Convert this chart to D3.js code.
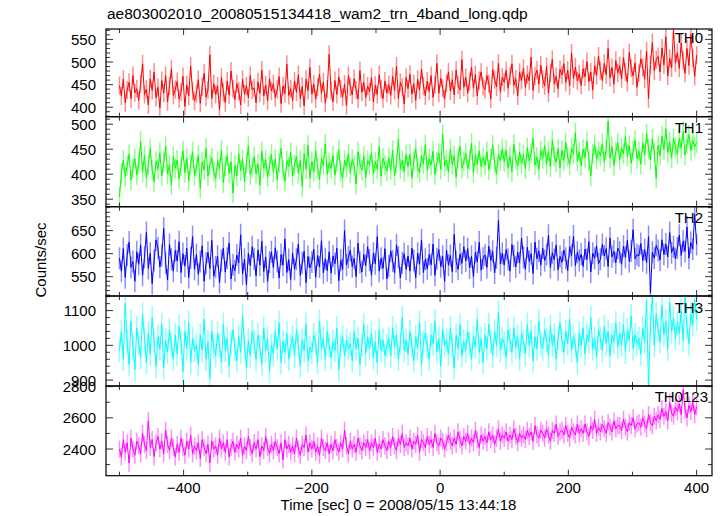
<!DOCTYPE html>
<html><head><meta charset="utf-8">
<script src="https://cdn.jsdelivr.net/npm/d3@7"></script>
<style>body{margin:0;background:#fff}svg{display:block}text{font-family:"Liberation Sans",Arial,sans-serif}</style>
</head><body><svg id="c" width="723" height="516"></svg>
<script>
const title = "ae803002010_20080515134418_wam2_trn_4band_long.qdp";
const xLabel = "Time [sec] 0 = 2008/05/15 13:44:18";
const yLabel = "Counts/sec";
const seriesNames = ["TH0", "TH1", "TH2", "TH3", "TH0123"];
const seriesColors = ["#ff0000", "#00ff00", "#0000ff", "#00ffff", "#ff00ff"];
const tStart = -500, tStep = 3;
const xTicksMajor = [-400, -200, 0, 200, 400];
const xTicksMinor = [-500, -300, -100, 100, 300];
const yDomains = [[379, 573], [335, 515], [508, 702], [883, 1142], [2229, 2804]];
const yTicksMajor = [[400, 450, 500, 550], [350, 400, 450, 500], [550, 600, 650], [900, 1000, 1100], [2400, 2600, 2800]];
const yMinorStep = [10, 10, 10, 20, 100];
const errors = [20, 20, 24, 34, 55];

const th0 = [
448,425,462,410,438,455,419,470,432,441,
415,452,496,428,440,405,463,437,478,421,
444,398,459,431,470,412,447,485,426,439,
457,418,433,468,402,449,425,491,436,414,
430,461,409,445,475,422,438,516,419,452,
428,447,395,466,433,410,458,427,480,441,
417,452,436,405,462,429,447,421,470,438,
443,410,456,431,482,425,449,414,463,436,
452,421,439,468,408,447,430,495,426,441,
415,458,433,472,419,446,403,462,437,488,
429,451,418,444,473,431,456,409,440,517,
436,412,459,428,467,441,422,451,404,470,
445,427,463,438,418,481,433,455,421,447,
434,466,412,449,428,472,440,419,458,431,
450,426,468,437,491,419,455,444,407,466,
441,473,429,452,415,462,438,484,447,425,
458,435,470,422,449,497,431,464,442,418,
453,478,436,461,427,482,449,438,505,444,
466,431,457,489,442,472,425,459,478,446,
439,470,452,418,483,461,445,497,433,467,
455,481,442,470,496,448,463,425,477,459,
486,444,472,458,511,437,469,482,451,493,
462,447,490,431,475,506,452,468,441,484,
471,496,455,482,447,520,463,489,458,474,
448,485,467,501,456,478,438,492,470,513,
481,459,497,472,530,465,488,451,503,476,
492,463,510,478,455,521,486,469,498,444,
475,507,488,462,524,419,495,543,480,505,
512,478,531,494,556,469,508,487,570,498,
521,486,542,503,475,530,492,561,509,468,
515];
const th1 = [
355,402,428,395,417,440,388,412,431,399,
421,466,404,437,392,418,451,409,385,426,
410,443,397,424,456,401,419,378,435,412,
428,391,416,447,403,432,387,420,445,398,
414,438,372,425,409,452,396,419,433,405,
391,427,411,448,383,416,437,402,425,362,
418,396,441,407,430,385,422,456,399,413,
435,401,420,378,446,412,429,394,417,440,
404,431,389,423,452,408,386,427,415,444,
397,419,436,402,428,375,441,410,458,392,
426,405,447,413,389,432,418,461,400,423,
411,437,398,424,449,406,392,428,414,441,
402,430,417,380,445,421,408,436,393,427,
419,443,401,425,410,455,396,432,418,406,
433,409,448,397,422,470,411,428,405,439,
415,440,392,426,451,413,403,437,421,459,
407,431,418,446,399,424,442,410,480,416,
428,405,450,419,437,394,432,456,412,425,
442,411,429,462,403,438,420,447,415,433,
418,445,409,431,458,422,400,440,427,451,
425,448,413,436,405,460,429,417,444,421,
439,411,453,426,442,472,418,434,409,447,
431,457,420,445,415,468,436,424,451,412,
448,427,463,435,419,452,440,483,426,444,
417,450,433,466,428,396,441,459,430,446,
437,461,425,449,506,432,455,418,444,463,
429,452,441,475,436,458,422,447,468,431,
446,420,463,438,481,451,429,470,444,392,
458,437,476,449,491,443,465,432,471,454,
440,472,452,486,438,461,479,447,468,455,
463];
const th2 = [
590,562,611,548,597,625,570,583,540,604,
577,619,553,592,646,568,601,535,585,630,
612,571,596,655,580,543,620,588,562,607,
584,626,559,600,573,612,548,591,637,566,
598,555,583,617,540,579,603,568,629,551,
571,594,537,585,612,560,590,623,545,576,
563,597,580,641,556,588,532,601,574,615,
589,552,608,575,627,561,593,540,582,604,
570,613,583,547,598,575,632,559,587,544,
601,566,588,621,553,580,605,537,594,569,
582,610,549,596,571,628,558,589,563,604,
558,595,578,612,541,586,566,650,575,592,
607,572,590,550,623,581,560,598,574,615,
586,553,601,578,637,562,590,568,611,545,
573,606,584,558,619,592,547,580,600,566,
595,562,612,585,548,601,577,630,559,588,
567,598,576,621,553,589,609,572,594,540,
608,575,596,560,642,583,566,599,579,615,
584,611,569,594,550,603,582,625,564,590,
597,570,616,585,605,558,591,672,578,601,
575,609,588,562,620,595,571,603,580,634,
592,566,614,583,600,557,625,589,606,575,
612,585,598,640,570,602,587,619,565,594,
581,608,590,563,615,596,638,574,603,585,
599,572,610,587,626,560,601,590,617,578,
588,620,595,611,572,634,593,605,580,612,
603,577,616,592,629,583,606,652,589,598,
595,622,585,609,580,637,515,603,590,618,
607,586,630,598,621,593,646,602,615,589,
612,640,596,627,605,658,590,624,610,685,
620];
const th3 = [
985,1040,960,1120,1010,945,1070,995,930,1050,
1005,965,1090,1020,950,1035,975,1080,1010,940,
1025,990,1060,935,1015,980,1045,1000,960,1030,
975,1055,1010,925,1040,990,1065,950,1020,985,
1000,945,1030,985,1075,960,1010,905,1040,995,
970,1035,1000,950,1060,985,1020,940,1005,1045,
990,955,1025,980,1085,1000,935,1015,970,1040,
1010,960,1030,995,945,1050,985,1020,925,1000,
975,1040,990,1065,950,1010,980,1035,960,1000,
1025,970,1045,1000,940,1015,985,1060,955,995,
980,1030,1005,950,1070,990,1020,960,1040,1000,
965,1010,985,1050,930,1000,1025,970,1015,990,
1005,955,1040,990,1020,945,1000,1060,975,1025,
990,1035,965,1010,950,1045,985,1015,970,1000,
1020,970,1050,995,1030,960,1005,1080,985,1015,
975,1040,1000,955,1025,990,1065,945,1010,1035,
995,960,1030,1005,1070,980,1020,940,1045,1000,
1015,975,1050,1000,935,1030,990,1060,970,1010,
985,1040,1005,960,1025,995,1075,980,1020,950,
1030,990,1060,1010,970,1040,1000,1095,985,1020,
1005,965,1045,1015,980,1050,995,1025,960,1035,
1010,975,1060,1000,1040,955,1025,990,1070,1005,
990,1045,1015,970,1055,1000,1030,960,1020,1065,
1015,980,1040,1005,1075,985,1025,1000,950,1035,
1000,1050,975,1030,1010,1080,990,1020,965,1045,
1020,985,1055,1005,1040,970,1030,1010,1065,995,
1035,1000,1060,980,1045,1015,1085,990,1030,1005,
1020,975,1050,1010,1130,880,1060,1140,1000,1090,
1045,1010,1115,1030,1070,990,1125,1040,1080,1020,
1065,1035,1100,1015,1140,1050,1005,1090,1060,1130,
1075];
const th0123 = [
2400,2350,2460,2380,2440,2310,2470,2400,2360,2450,
2420,2370,2500,2430,2390,2580,2410,2460,2350,2440,
2480,2400,2450,2370,2520,2430,2390,2470,2410,2350,
2430,2380,2470,2410,2360,2450,2400,2490,2370,2420,
2390,2440,2340,2460,2410,2370,2430,2310,2450,2400,
2420,2360,2470,2400,2440,2380,2460,2350,2410,2450,
2380,2430,2400,2470,2360,2420,2390,2480,2410,2370,
2440,2400,2460,2350,2420,2390,2480,2410,2370,2430,
2390,2450,2410,2370,2440,2330,2460,2400,2430,2380,
2420,2370,2470,2400,2360,2430,2410,2490,2380,2440,
2400,2450,2380,2420,2360,2470,2410,2390,2440,2370,
2430,2390,2460,2410,2380,2440,2400,2520,2420,2370,
2450,2400,2430,2380,2470,2420,2390,2440,2410,2460,
2390,2440,2410,2470,2380,2430,2400,2460,2420,2390,
2450,2410,2480,2420,2390,2470,2430,2500,2410,2440,
2420,2470,2400,2450,2430,2490,2380,2460,2440,2410,
2480,2430,2460,2410,2500,2440,2420,2470,2450,2400,
2440,2490,2450,2420,2470,2430,2510,2460,2420,2480,
2450,2500,2430,2470,2440,2520,2460,2410,2490,2450,
2480,2440,2510,2460,2490,2430,2470,2530,2450,2490,
2470,2510,2450,2490,2460,2530,2480,2440,2500,2470,
2490,2460,2520,2480,2510,2450,2550,2490,2470,2520,
2500,2470,2530,2490,2450,2520,2500,2560,2480,2510,
2520,2490,2550,2500,2470,2540,2510,2490,2560,2500,
2530,2500,2560,2510,2480,2550,2520,2590,2500,2540,
2510,2560,2530,2500,2570,2540,2510,2580,2530,2550,
2550,2520,2590,2540,2510,2570,2550,2600,2530,2560,
2570,2540,2600,2560,2530,2620,2570,2550,2610,2580,
2620,2590,2660,2610,2640,2580,2700,2630,2610,2670,
2640,2690,2620,2780,2650,2600,2680,2640,2700,2620,
2670];
const seriesValues = [th0, th1, th2, th3, th0123];

const svg = d3.select("#c");
const left = 106, right = 712;
const panelEdges = [29, 116.7, 206.7, 296, 386, 475.7];
const labelBaselines = [43, 133, 223, 313, 402];
const labelRight = [703, 703, 703, 703, 708];

const x = d3.scaleLinear().domain([-521, 424]).range([left, right]);
const tOf = i => tStart + i * tStep;

seriesValues.forEach((vals, p) => {
  const top = panelEdges[p], bot = panelEdges[p + 1];
  const y = d3.scaleLinear().domain(yDomains[p]).range([bot, top]);
  const g = svg.append("g");
  const cid = "clip" + p;
  svg.append("clipPath").attr("id", cid).append("rect")
    .attr("x", left).attr("y", top).attr("width", right - left).attr("height", bot - top);
  const dg = g.append("g").attr("clip-path", `url(#${cid})`);
  const col = seriesColors[p];
  const err = errors[p];
  dg.append("g").selectAll("line").data(vals).join("line")
    .attr("x1", (d, i) => x(tOf(i))).attr("x2", (d, i) => x(tOf(i)))
    .attr("y1", d => y(d - err)).attr("y2", d => y(d + err))
    .attr("stroke", col).attr("stroke-opacity", 0.45).attr("stroke-width", 1.5);
  dg.append("path").datum(vals)
    .attr("d", d3.line().x((d, i) => x(tOf(i))).y(d => y(d)))
    .attr("fill", "none").attr("stroke", col).attr("stroke-width", 1);

  const [d0, d1] = yDomains[p];
  const minors = d3.range(Math.ceil(d0 / yMinorStep[p]) * yMinorStep[p], d1, yMinorStep[p])
    .filter(v => !yTicksMajor[p].includes(v));
  const tickG = g.append("g").attr("stroke", "#333").attr("stroke-width", 1);
  minors.forEach(v => {
    tickG.append("line").attr("x1", left).attr("x2", left + 4).attr("y1", y(v)).attr("y2", y(v));
    tickG.append("line").attr("x1", right).attr("x2", right - 4).attr("y1", y(v)).attr("y2", y(v));
  });
  yTicksMajor[p].forEach(v => {
    tickG.append("line").attr("x1", left).attr("x2", left + 7).attr("y1", y(v)).attr("y2", y(v));
    tickG.append("line").attr("x1", right).attr("x2", right - 7).attr("y1", y(v)).attr("y2", y(v));
    g.append("text").attr("x", 96).attr("y", y(v) + 5.5).attr("text-anchor", "end")
      .attr("font-size", 15).attr("fill", "#000").text(v);
  });
  xTicksMajor.forEach(t => {
    tickG.append("line").attr("x1", x(t)).attr("x2", x(t)).attr("y1", bot).attr("y2", bot - 6);
    tickG.append("line").attr("x1", x(t)).attr("x2", x(t)).attr("y1", top).attr("y2", top + 6);
  });
  xTicksMinor.forEach(t => {
    tickG.append("line").attr("x1", x(t)).attr("x2", x(t)).attr("y1", bot).attr("y2", bot - 4);
    tickG.append("line").attr("x1", x(t)).attr("x2", x(t)).attr("y1", top).attr("y2", top + 4);
  });
  g.append("rect").attr("x", left).attr("y", top).attr("width", right - left).attr("height", bot - top)
    .attr("fill", "none").attr("stroke", "#000").attr("stroke-width", 1.2);
  g.append("text").attr("x", labelRight[p]).attr("y", labelBaselines[p]).attr("text-anchor", "end")
    .attr("font-size", 15).attr("fill", "#000").text(seriesNames[p]);
});

xTicksMajor.forEach(t => {
  svg.append("text").attr("x", x(t)).attr("y", 493).attr("text-anchor", "middle")
    .attr("font-size", 15).text(t < 0 ? "\u2212" + Math.abs(t) : t);
});
svg.append("text").attr("x", 398.5).attr("y", 510).attr("text-anchor", "middle")
  .attr("font-size", 15).text(xLabel);
svg.append("text").attr("transform", "translate(46,260) rotate(-90)").attr("text-anchor", "middle")
  .attr("font-size", 15).text(yLabel);
svg.append("text").attr("x", 107).attr("y", 19).attr("font-size", 15.5).text(title);
</script></body></html>
